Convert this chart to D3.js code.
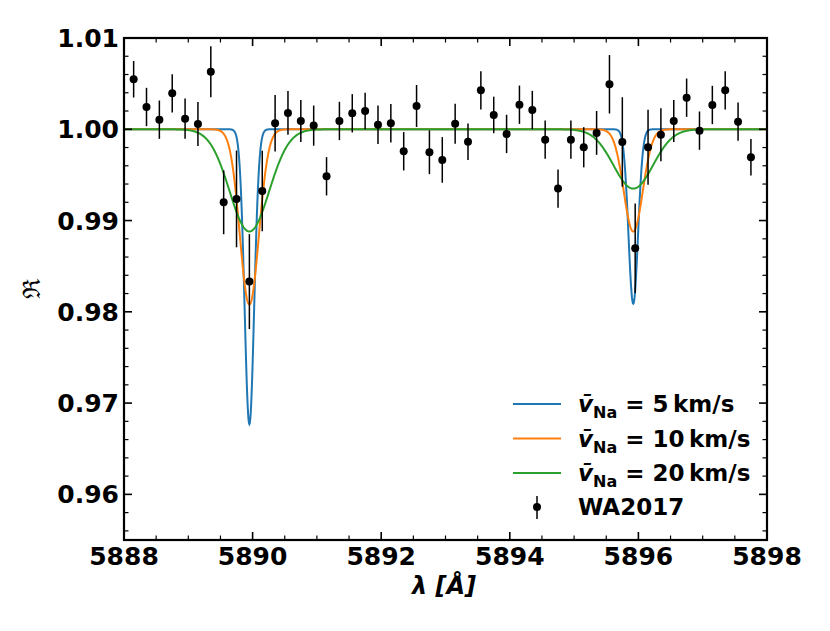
<!DOCTYPE html>
<html>
<head>
<meta charset="utf-8">
<script src="https://cdn.jsdelivr.net/npm/d3@7"></script>
<style>
  body { margin: 0; background: #fff; }
  svg { font-family: "DejaVu Sans", sans-serif; font-weight: bold; }
</style>
</head>
<body>
<svg id="chart" width="830" height="631"></svg>
<script>
// WA2017 points, wavelength grid (A), relative flux and 1-sigma errors
const wave = [5888.15, 5888.35, 5888.55, 5888.75, 5888.95, 5889.15, 5889.35, 5889.55, 5889.75, 5889.95,
  5890.15, 5890.35, 5890.55, 5890.75, 5890.95, 5891.15, 5891.35, 5891.55, 5891.75, 5891.95,
  5892.15, 5892.35, 5892.55, 5892.75, 5892.95, 5893.15, 5893.35, 5893.55, 5893.75, 5893.95,
  5894.15, 5894.35, 5894.55, 5894.75, 5894.95, 5895.15, 5895.35, 5895.55, 5895.75, 5895.95,
  5896.15, 5896.35, 5896.55, 5896.75, 5896.95, 5897.15, 5897.35, 5897.55, 5897.75];
const flux = [1.00548, 1.00244, 1.00105, 1.00394, 1.00116, 1.00058, 1.0063, 0.99200, 0.99237, 0.98331,
  0.99324, 1.00066, 1.00179, 1.00091, 1.0004, 0.99485, 1.00091, 1.00175, 1.002, 1.0005,
  1.00066, 0.99759, 1.00255, 0.99748, 0.99664, 1.00061, 0.99864, 1.00427, 1.00157, 0.99949,
  1.00269, 1.00211, 0.99886, 0.9935, 0.99886, 0.99803, 0.9996, 1.00493, 0.99861, 0.98697,
  0.99803, 0.99941, 1.00091, 1.00346, 0.99985, 1.00266, 1.00427, 1.00083, 0.99693];
const err = [0.0020, 0.0021, 0.0021, 0.0021, 0.0022, 0.0024, 0.0028, 0.0035, 0.0053, 0.0052,
  0.0044, 0.0031, 0.0024, 0.0023, 0.0022, 0.0021, 0.0021, 0.0021, 0.0020, 0.0021,
  0.0021, 0.0021, 0.0023, 0.0024, 0.0025, 0.0022, 0.0020, 0.0021, 0.0020, 0.0021,
  0.0021, 0.0021, 0.0021, 0.0021, 0.0021, 0.0022, 0.0024, 0.0032, 0.0049, 0.0049,
  0.0041, 0.0029, 0.0023, 0.0021, 0.0021, 0.0021, 0.0021, 0.0021, 0.0020];

// model lines: Na D2 / D1 centres, depths and widths
const lineCentres = [5889.95, 5895.92];
const modelNames = ["5", "10", "20"];
const modelColors = ["#1f77b4", "#ff7f0e", "#2ca02c"];
const modelDepths = [[0.0323, 0.0191], [0.0192, 0.0112], [0.0112, 0.0065]];
const modelWidths = [0.105, 0.209, 0.435];

const xTicks = [5888, 5890, 5892, 5894, 5896, 5898];
const yTicks = [0.96, 0.97, 0.98, 0.99, 1.00, 1.01];

const svg = d3.select("#chart");
const pLeft = 124, pRight = 767, pTop = 38, pBottom = 540;

const x = d3.scaleLinear().domain([5888, 5898]).range([pLeft, pRight]);
const y = d3.scaleLinear().domain([0.955, 1.01]).range([pBottom, pTop]);

// model curves
const grid = d3.range(5888, 5898.0001, 0.005);
modelNames.forEach((m, i) => {
  const prof = grid.map(l => {
    let f = 1;
    lineCentres.forEach((c, j) => {
      f -= modelDepths[i][j] * Math.exp(-Math.pow((l - c) / modelWidths[i], 2));
    });
    return [l, f];
  });
  svg.append("path")
    .datum(prof)
    .attr("fill", "none")
    .attr("stroke", modelColors[i])
    .attr("stroke-width", 2)
    .attr("d", d3.line().x(d => x(d[0])).y(d => y(d[1])));
});

// error bars + points
const pts = svg.append("g");
wave.forEach((w, i) => {
  pts.append("line")
    .attr("x1", x(w)).attr("x2", x(w))
    .attr("y1", y(flux[i] - err[i])).attr("y2", y(flux[i] + err[i]))
    .attr("stroke", "black").attr("stroke-width", 1.5);
  pts.append("circle")
    .attr("cx", x(w)).attr("cy", y(flux[i])).attr("r", 4)
    .attr("fill", "black");
});

// ticks (inward, all four sides)
const tk = svg.append("g").attr("stroke", "black");
const xMinor = d3.range(5888, 5898.001, 0.5);
const yMinor = d3.range(0.956, 1.0101, 0.002);
xMinor.forEach(v => {
  const major = xTicks.some(t => Math.abs(t - v) < 1e-6);
  const len = major ? 8 : 4.5, sw = major ? 1.6 : 1.2;
  tk.append("line").attr("x1", x(v)).attr("x2", x(v)).attr("y1", pBottom).attr("y2", pBottom - len).attr("stroke-width", sw);
  tk.append("line").attr("x1", x(v)).attr("x2", x(v)).attr("y1", pTop).attr("y2", pTop + len).attr("stroke-width", sw);
});
yMinor.forEach(v => {
  const major = yTicks.some(t => Math.abs(t - v) < 1e-6);
  const len = major ? 8 : 4.5, sw = major ? 1.6 : 1.2;
  tk.append("line").attr("x1", pLeft).attr("x2", pLeft + len).attr("y1", y(v)).attr("y2", y(v)).attr("stroke-width", sw);
  tk.append("line").attr("x1", pRight).attr("x2", pRight - len).attr("y1", y(v)).attr("y2", y(v)).attr("stroke-width", sw);
});

// frame
svg.append("rect")
  .attr("x", pLeft).attr("y", pTop)
  .attr("width", pRight - pLeft).attr("height", pBottom - pTop)
  .attr("fill", "none").attr("stroke", "black").attr("stroke-width", 2.2);

// tick labels
svg.append("g").selectAll("text").data(xTicks).join("text")
  .attr("x", d => x(d)).attr("y", pBottom + 25)
  .attr("text-anchor", "middle").attr("font-size", 25)
  .text(d => d);
svg.append("g").selectAll("text").data(yTicks).join("text")
  .attr("x", pLeft - 5).attr("y", d => y(d) + 9)
  .attr("text-anchor", "end").attr("font-size", 25)
  .text(d => d.toFixed(2));

// axis labels
svg.append("text")
  .attr("x", 444).attr("y", 594)
  .attr("text-anchor", "middle").attr("font-size", 24)
  .attr("font-style", "italic")
  .text("λ [Å]");
svg.append("text")
  .attr("transform", `translate(40,289) rotate(-90)`)
  .attr("text-anchor", "middle").attr("font-size", 24).attr("font-weight", "normal")
  .attr("font-family", "DejaVu Serif, serif")
  .text("ℜ");

// legend
const lg = svg.append("g");
modelNames.forEach((m, i) => {
  const ly = 404 + i * 34.5;
  lg.append("line").attr("x1", 513).attr("x2", 561).attr("y1", ly).attr("y2", ly)
    .attr("stroke", modelColors[i]).attr("stroke-width", 2);
  const t = lg.append("text").attr("x", 578).attr("y", ly + 8).attr("font-size", 23);
  t.append("tspan").attr("font-style", "italic").text("v\u0304");
  t.append("tspan").attr("font-size", 16).attr("dy", 6).text("Na");
  t.append("tspan").attr("dy", -6).text(` = ${m}\u2009km/s`);
});
lg.append("line").attr("x1", 537).attr("x2", 537).attr("y1", 496).attr("y2", 519)
  .attr("stroke", "black").attr("stroke-width", 1.5);
lg.append("circle").attr("cx", 537).attr("cy", 507).attr("r", 4).attr("fill", "black");
lg.append("text").attr("x", 578).attr("y", 515).attr("font-size", 23).text("WA2017");
</script>
</body>
</html>
